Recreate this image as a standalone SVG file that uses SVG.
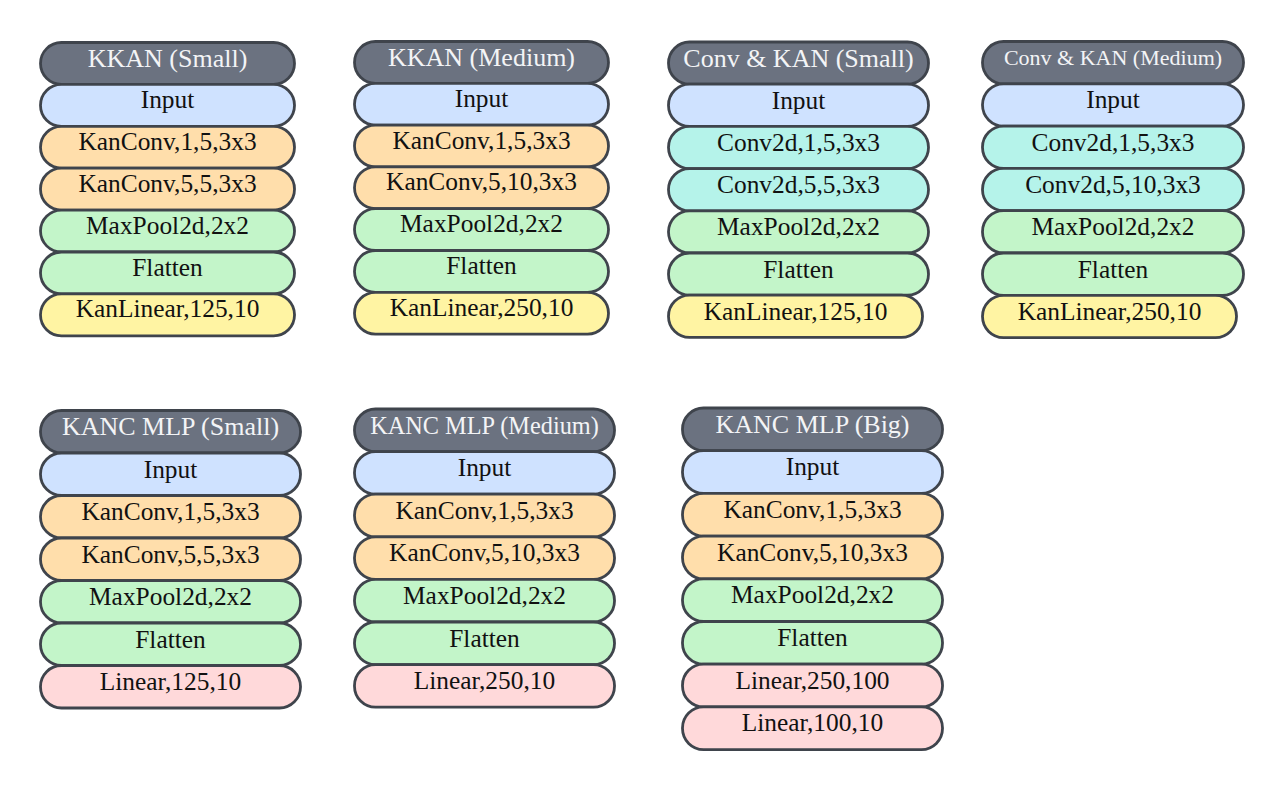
<svg xmlns="http://www.w3.org/2000/svg" width="1285" height="789" viewBox="0 0 1285 789">
<style>
rect{stroke:#3f444c;stroke-width:2.8}
.hd{fill:#6b7280}
.in{fill:#cfe2ff}
.kc{fill:#ffdeab}
.mp{fill:#c3f5c9}
.kl{fill:#fff4a3}
.cv{fill:#b5f3ea}
.ln{fill:#ffd9da}
text{font-family:"Liberation Serif","Times New Roman",serif;text-anchor:middle;fill:#111}
.t{font-size:25.4px}
.h{font-size:26px;fill:#f3f4f6}
</style>
<rect x="0" y="0" width="1285" height="789" fill="#ffffff" style="stroke:none"/>

<g id="kkan-small" transform="translate(40.5,42.5)">
<rect class="hd" x="0" y="0" width="254" height="41.9" rx="20.9"/>
<rect class="in" x="0" y="41.9" width="254" height="41.9" rx="20.9"/>
<rect class="kc" x="0" y="83.8" width="254" height="41.9" rx="20.9"/>
<rect class="kc" x="0" y="125.7" width="254" height="41.9" rx="20.9"/>
<rect class="mp" x="0" y="167.6" width="254" height="41.9" rx="20.9"/>
<rect class="mp" x="0" y="209.5" width="254" height="41.9" rx="20.9"/>
<rect class="kl" x="0" y="251.4" width="254" height="41.9" rx="20.9"/>
<text class="h" x="127" y="24.5">KKAN (Small)</text>
<text class="t" x="127" y="65.4">Input</text>
<text class="t" x="127" y="107.3">KanConv,1,5,3x3</text>
<text class="t" x="127" y="149.2">KanConv,5,5,3x3</text>
<text class="t" x="127" y="191.1">MaxPool2d,2x2</text>
<text class="t" x="127" y="233">Flatten</text>
<text class="t" x="127" y="274.9">KanLinear,125,10</text>
</g>

<g id="kkan-medium" transform="translate(354.5,41.5)">
<rect class="hd" x="0" y="0" width="254" height="41.8" rx="20.9"/>
<rect class="in" x="0" y="41.8" width="254" height="41.8" rx="20.9"/>
<rect class="kc" x="0" y="83.6" width="254" height="41.8" rx="20.9"/>
<rect class="kc" x="0" y="125.4" width="254" height="41.8" rx="20.9"/>
<rect class="mp" x="0" y="167.2" width="254" height="41.8" rx="20.9"/>
<rect class="mp" x="0" y="209" width="254" height="41.8" rx="20.9"/>
<rect class="kl" x="0" y="250.8" width="254" height="41.8" rx="20.9"/>
<text class="h" x="127" y="24.5">KKAN (Medium)</text>
<text class="t" x="127" y="65.3">Input</text>
<text class="t" x="127" y="107.1">KanConv,1,5,3x3</text>
<text class="t" x="127" y="148.9">KanConv,5,10,3x3</text>
<text class="t" x="127" y="190.7">MaxPool2d,2x2</text>
<text class="t" x="127" y="232.5">Flatten</text>
<text class="t" x="127" y="274.3">KanLinear,250,10</text>
</g>

<g id="conv-kan-small" transform="translate(668.5,42)">
<rect class="hd" x="0" y="0" width="260" height="42.2" rx="21"/>
<rect class="in" x="0" y="42.2" width="260" height="42.2" rx="21"/>
<rect class="cv" x="0" y="84.4" width="260" height="42.2" rx="21"/>
<rect class="cv" x="0" y="126.6" width="260" height="42.2" rx="21"/>
<rect class="mp" x="0" y="168.8" width="260" height="42.2" rx="21"/>
<rect class="mp" x="0" y="211" width="260" height="42.2" rx="21"/>
<rect class="kl" x="0" y="253.2" width="254" height="42.2" rx="21"/>
<text class="h" x="130" y="24.5">Conv &amp; KAN (Small)</text>
<text class="t" x="130" y="66.7">Input</text>
<text class="t" x="130" y="108.9">Conv2d,1,5,3x3</text>
<text class="t" x="130" y="151.1">Conv2d,5,5,3x3</text>
<text class="t" x="130" y="193.3">MaxPool2d,2x2</text>
<text class="t" x="130" y="235.5">Flatten</text>
<text class="t" x="127" y="277.7">KanLinear,125,10</text>
</g>

<g id="conv-kan-medium" transform="translate(982.5,41.5)">
<rect class="hd" x="0" y="0" width="261" height="42.3" rx="21"/>
<rect class="in" x="0" y="42.3" width="261" height="42.3" rx="21"/>
<rect class="cv" x="0" y="84.6" width="261" height="42.3" rx="21"/>
<rect class="cv" x="0" y="126.9" width="261" height="42.3" rx="21"/>
<rect class="mp" x="0" y="169.2" width="261" height="42.3" rx="21"/>
<rect class="mp" x="0" y="211.5" width="261" height="42.3" rx="21"/>
<rect class="kl" x="0" y="253.8" width="254" height="42.3" rx="21"/>
<text class="h" x="130.5" y="23.5" style="font-size:22px">Conv &amp; KAN (Medium)</text>
<text class="t" x="130.5" y="66.8">Input</text>
<text class="t" x="130.5" y="109.1">Conv2d,1,5,3x3</text>
<text class="t" x="130.5" y="151.4">Conv2d,5,10,3x3</text>
<text class="t" x="130.5" y="193.7">MaxPool2d,2x2</text>
<text class="t" x="130.5" y="236">Flatten</text>
<text class="t" x="127" y="278.3">KanLinear,250,10</text>
</g>

<g id="kanc-mlp-small" transform="translate(40.5,410.5)">
<rect class="hd" x="0" y="0" width="260" height="42.5" rx="21"/>
<rect class="in" x="0" y="42.5" width="260" height="42.5" rx="21"/>
<rect class="kc" x="0" y="85" width="260" height="42.5" rx="21"/>
<rect class="kc" x="0" y="127.5" width="260" height="42.5" rx="21"/>
<rect class="mp" x="0" y="170" width="260" height="42.5" rx="21"/>
<rect class="mp" x="0" y="212.5" width="260" height="42.5" rx="21"/>
<rect class="ln" x="0" y="255" width="260" height="42.5" rx="21"/>
<text class="h" x="130" y="24.5">KANC MLP (Small)</text>
<text class="t" x="130" y="67">Input</text>
<text class="t" x="130" y="109.5">KanConv,1,5,3x3</text>
<text class="t" x="130" y="152">KanConv,5,5,3x3</text>
<text class="t" x="130" y="194.5">MaxPool2d,2x2</text>
<text class="t" x="130" y="237">Flatten</text>
<text class="t" x="130" y="279.5">Linear,125,10</text>
</g>

<g id="kanc-mlp-medium" transform="translate(354.5,409)">
<rect class="hd" x="0" y="0" width="260" height="42.6" rx="21"/>
<rect class="in" x="0" y="42.6" width="260" height="42.6" rx="21"/>
<rect class="kc" x="0" y="85.2" width="260" height="42.6" rx="21"/>
<rect class="kc" x="0" y="127.8" width="260" height="42.6" rx="21"/>
<rect class="mp" x="0" y="170.4" width="260" height="42.6" rx="21"/>
<rect class="mp" x="0" y="213" width="260" height="42.6" rx="21"/>
<rect class="ln" x="0" y="255.6" width="260" height="42.6" rx="21"/>
<text class="h" x="130" y="24.5" style="font-size:24.3px">KANC MLP (Medium)</text>
<text class="t" x="130" y="67.1">Input</text>
<text class="t" x="130" y="109.7">KanConv,1,5,3x3</text>
<text class="t" x="130" y="152.3">KanConv,5,10,3x3</text>
<text class="t" x="130" y="194.9">MaxPool2d,2x2</text>
<text class="t" x="130" y="237.5">Flatten</text>
<text class="t" x="130" y="280.1">Linear,250,10</text>
</g>

<g id="kanc-mlp-big" transform="translate(682.5,408)">
<rect class="hd" x="0" y="0" width="260" height="42.7" rx="21"/>
<rect class="in" x="0" y="42.7" width="260" height="42.7" rx="21"/>
<rect class="kc" x="0" y="85.4" width="260" height="42.7" rx="21"/>
<rect class="kc" x="0" y="128.1" width="260" height="42.7" rx="21"/>
<rect class="mp" x="0" y="170.8" width="260" height="42.7" rx="21"/>
<rect class="mp" x="0" y="213.5" width="260" height="42.7" rx="21"/>
<rect class="ln" x="0" y="256.2" width="260" height="42.7" rx="21"/>
<rect class="ln" x="0" y="298.9" width="260" height="42.7" rx="21"/>
<text class="h" x="130" y="24.5">KANC MLP (Big)</text>
<text class="t" x="130" y="67.2">Input</text>
<text class="t" x="130" y="109.9">KanConv,1,5,3x3</text>
<text class="t" x="130" y="152.6">KanConv,5,10,3x3</text>
<text class="t" x="130" y="195.3">MaxPool2d,2x2</text>
<text class="t" x="130" y="238">Flatten</text>
<text class="t" x="130" y="280.7">Linear,250,100</text>
<text class="t" x="130" y="323.4">Linear,100,10</text>
</g>

<g id="connectors"/>
</svg>
